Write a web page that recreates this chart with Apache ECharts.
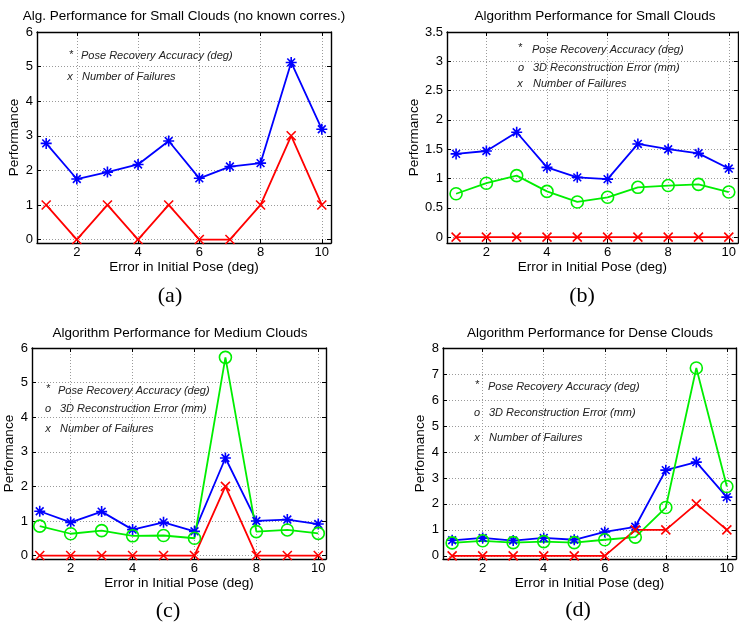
<!DOCTYPE html>
<html>
<head>
<meta charset="utf-8">
<script src="https://cdn.jsdelivr.net/npm/echarts@6/dist/echarts.min.js"></script>
<style>
html,body{margin:0;padding:0;background:#fff;}
#chart{width:739px;height:625px;}
</style>
</head>
<body>
<div id="chart"></div>
<script>
// ---- data ----
const xValues = [1, 2, 3, 4, 5, 6, 7, 8, 9, 10];
const xTicks = [2, 4, 6, 8, 10];

const aPose = [2.78, 1.75, 1.95, 2.17, 2.85, 1.77, 2.11, 2.21, 5.12, 3.19];
const aFail = [1, 0, 1, 0, 1, 0, 0, 1, 3, 1];

const bPose  = [1.42, 1.47, 1.79, 1.19, 1.02, 0.99, 1.59, 1.50, 1.43, 1.17];
const bRecon = [0.74, 0.92, 1.05, 0.78, 0.60, 0.68, 0.85, 0.88, 0.90, 0.77];
const bFail  = [0, 0, 0, 0, 0, 0, 0, 0, 0, 0];

const cPose  = [1.28, 0.96, 1.27, 0.75, 0.96, 0.70, 2.82, 1.00, 1.04, 0.91];
const cRecon = [0.85, 0.63, 0.72, 0.57, 0.58, 0.50, 5.73, 0.69, 0.74, 0.64];
const cFail  = [0, 0, 0, 0, 0, 0, 2, 0, 0, 0];

const dPose  = [0.60, 0.69, 0.59, 0.69, 0.62, 0.92, 1.12, 3.30, 3.61, 2.26];
const dRecon = [0.50, 0.58, 0.51, 0.55, 0.51, 0.62, 0.72, 1.86, 7.23, 2.67];
const dFail  = [0, 0, 0, 0, 0, 0, 1, 1, 2, 1];

const yTicksA = [0, 1, 2, 3, 4, 5, 6];
const yTicksB = [0, 0.5, 1, 1.5, 2, 2.5, 3, 3.5];
const yTicksC = [0, 1, 2, 3, 4, 5, 6];
const yTicksD = [0, 1, 2, 3, 4, 5, 6, 7, 8];

const titles = [
  'Alg. Performance for Small Clouds (no known corres.)',
  'Algorithm Performance for Small Clouds',
  'Algorithm Performance for Medium Clouds',
  'Algorithm Performance for Dense Clouds'
];
const captions = ['(a)', '(b)', '(c)', '(d)'];
const legendPose = 'Pose Recovery Accuracy (deg)';
const legendRecon = '3D Reconstruction Error (mm)';
const legendFail = 'Number of Failures';
const xName = 'Error in Initial Pose (deg)';
const yName = 'Performance';

// ---- styling / layout ----
const FONT = '"Liberation Sans", Arial, Helvetica, sans-serif';
const BLUE = '#0000ff', GREEN = '#00ee00', RED = '#ff0000';
const STAR = 'path://M0,-10L0,10M-10,0L10,0M-7.07,-7.07L7.07,7.07M-7.07,7.07L7.07,-7.07';
const CROSS = 'path://M-10,-10L10,10M-10,10L10,-10';

const panels = [
  {grid:{left:37, top:32, width:294, height:211}, xr:[0.7,10.3], yr:[-0.1,6], yt:yTicksA, yGap:16,
   series:[[aPose,'pose'],[aFail,'fail']]},
  {grid:{left:447, top:32, width:296, height:211}, xr:[0.7,10.3], yr:[-0.1,3.5], yt:yTicksB, yGap:26,
   series:[[bPose,'pose'],[bRecon,'recon'],[bFail,'fail']]},
  {grid:{left:32, top:348, width:294, height:211}, xr:[0.75,10.25], yr:[-0.1,6], yt:yTicksC, yGap:16,
   series:[[cPose,'pose'],[cRecon,'recon'],[cFail,'fail']]},
  {grid:{left:443, top:348, width:293, height:211}, xr:[0.7,10.3], yr:[-0.12,8], yt:yTicksD, yGap:16,
   series:[[dPose,'pose'],[dRecon,'recon'],[dFail,'fail']]}
];

const grids = [], xAxes = [], yAxes = [], seriesList = [];
const lineAxis = {show:true, onZero:false, lineStyle:{color:'#000', width:1.4}};
const labelStyle = {color:'#000', fontSize:13, fontFamily:FONT};

panels.forEach((p, gi) => {
  grids.push(Object.assign({containLabel:false}, p.grid));
  // bottom & top x axes
  ['bottom','top'].forEach(pos => {
    xAxes.push({
      type:'value', gridIndex:gi, position:pos, min:p.xr[0], max:p.xr[1],
      axisLine:lineAxis,
      axisTick:{show:true, inside:true, length:4, customValues:xTicks, lineStyle:{color:'#000', width:1}},
      axisLabel:{show:pos==='bottom', customValues:xTicks, margin:3, ...labelStyle},
      splitLine:{show:pos==='bottom', lineStyle:{color:'#9a9a9a', width:1, type:[1,2]}},
      name: pos==='bottom' ? xName : '', nameLocation:'middle', nameGap:17,
      nameTextStyle:{color:'#000', fontSize:13.5, fontFamily:FONT}
    });
  });
  ['left','right'].forEach(pos => {
    yAxes.push({
      type:'value', gridIndex:gi, position:pos, min:p.yr[0], max:p.yr[1],
      axisLine:lineAxis,
      axisTick:{show:true, inside:true, length:4, customValues:p.yt, lineStyle:{color:'#000', width:1}},
      axisLabel:{show:pos==='left', customValues:p.yt, margin:4, ...labelStyle},
      splitLine:{show:pos==='left', lineStyle:{color:'#9a9a9a', width:1, type:[1,2]}},
      name: pos==='left' ? yName : '', nameLocation:'middle', nameGap:p.yGap,
      nameTextStyle:{color:'#000', fontSize:13.5, fontFamily:FONT}
    });
  });
  p.series.forEach(([arr, kind]) => {
    const col = kind==='pose' ? BLUE : kind==='recon' ? GREEN : RED;
    const sym = kind==='pose' ? STAR : kind==='recon' ? 'circle' : CROSS;
    const size = kind==='pose' ? 11 : kind==='recon' ? 12 : 9;
    seriesList.push({
      type:'line', xAxisIndex:gi*2, yAxisIndex:gi*2,
      data:xValues.map((x,i)=>[x, arr[i]]),
      symbol:sym, symbolSize:size, showSymbol:true, showAllSymbol:true,
      lineStyle:{color:col, width:1.8},
      itemStyle:{color: kind==='recon' ? 'rgba(0,0,0,0)' : col, borderColor:col, borderWidth:1.6},
      emphasis:{disabled:true}, silent:true, clip:false
    });
  });
});

// ---- text annotations ----
const graphics = [];
function txt(text, x, y, font, align, fill) {
  graphics.push({type:'text', silent:true, z:100, style:{
    text, x, y, font, fill: fill || '#000',
    align: align || 'center', textAlign: align || 'center',
    verticalAlign:'middle', textVerticalAlign:'middle'}});
}
const titleFont = '13.5px ' + FONT;
txt(titles[0], 184, 16, titleFont);
txt(titles[1], 595, 16, titleFont);
txt(titles[2], 180, 333, titleFont);
txt(titles[3], 590, 333, titleFont);

const capFont = '22px "Liberation Serif", "Times New Roman", serif';
txt(captions[0], 170, 296, capFont);
txt(captions[1], 582, 296, capFont);
txt(captions[2], 168, 611, capFont);
txt(captions[3], 578, 610, capFont);

const legFont = 'italic 11px ' + FONT;
const legCol = '#222';
// (a)
txt('*', 71, 55, legFont, 'center', legCol);  txt(legendPose, 81, 56, legFont, 'left', legCol);
txt('x', 70, 77, legFont, 'center', legCol);  txt(legendFail, 82, 77, legFont, 'left', legCol);
// (b)
txt('*', 520, 48, legFont, 'center', legCol); txt(legendPose, 532, 50, legFont, 'left', legCol);
txt('o', 521, 68, legFont, 'center', legCol); txt(legendRecon, 533, 68, legFont, 'left', legCol);
txt('x', 520, 84, legFont, 'center', legCol); txt(legendFail, 533, 84, legFont, 'left', legCol);
// (c)
txt('*', 48, 389, legFont, 'center', legCol); txt(legendPose, 58, 391, legFont, 'left', legCol);
txt('o', 48, 409, legFont, 'center', legCol); txt(legendRecon, 60, 409, legFont, 'left', legCol);
txt('x', 48, 429, legFont, 'center', legCol); txt(legendFail, 60, 429, legFont, 'left', legCol);
// (d)
txt('*', 477, 385, legFont, 'center', legCol); txt(legendPose, 488, 387, legFont, 'left', legCol);
txt('o', 477, 413, legFont, 'center', legCol); txt(legendRecon, 489, 413, legFont, 'left', legCol);
txt('x', 477, 438, legFont, 'center', legCol); txt(legendFail, 489, 438, legFont, 'left', legCol);

const chart = echarts.init(document.getElementById('chart'), null, {renderer:'canvas'});
chart.setOption({
  animation:false,
  backgroundColor:'#fff',
  grid:grids, xAxis:xAxes, yAxis:yAxes, series:seriesList, graphic:graphics
});
</script>
</body>
</html>
